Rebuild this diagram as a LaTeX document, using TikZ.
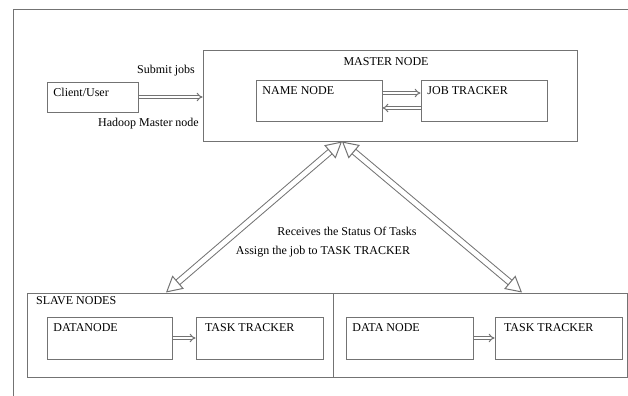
\documentclass[tikz,border=0pt]{standalone}
\usepackage{fontspec}
\setmainfont{Liberation Serif}
\usetikzlibrary{arrows.meta}

\begin{document}
\begin{tikzpicture}[x=0.75pt, y=-0.75pt,
    font=\fontsize{9}{10}\selectfont,
    line/.style={draw=black!55, line width=0.75pt},
    box/.style={line, rectangle, inner sep=0pt},
    title/.style={anchor=north west, inner sep=0pt, text height=6.5pt, text depth=2pt, xshift=5pt, yshift=-4.5pt},
    flow/.style={line, double=white, double distance=1.4pt, -{Implies}},
    bigflow/.style={line, double=white, double distance=3.6pt,
        {Triangle[open, fill=white, length=12pt, width=13pt]}-{Triangle[open, fill=white, length=12pt, width=13pt]}}]
    % Page and frame
    \useasboundingbox (0,0) rectangle (628,396);
    \draw[line] (628,9) -- (13,9) -- (13,396);

    % Client and master
    \node[box, minimum width=68.25pt, minimum height=22.5pt,
          label={[title]north west:Client/User}] (client) at (92.5,97) {};
    \node[box, minimum width=280.5pt, minimum height=68.25pt] (master) at (390,95.5) {};
    \node (mastertitle) at (386,62) {MASTER NODE};
    \node[box, minimum width=94.5pt, minimum height=30.75pt,
          label={[title]north west:NAME NODE}] (name) at (319,100.5) {};
    \node[box, minimum width=94.5pt, minimum height=30.75pt,
          label={[title]north west:JOB TRACKER}] (job) at (484,100.5) {};

    % Slave nodes
    \node[box, minimum width=229.5pt, minimum height=63pt,
          label={[title, yshift=2pt, xshift=2pt]north west:SLAVE NODES}] (slave1) at (180,335) {};
    \node[box, minimum width=220.5pt, minimum height=63pt] (slave2) at (480,335) {};
    \node[box, minimum width=93.75pt, minimum height=31.5pt,
          label={[title]north west:DATANODE}] (data1) at (109.5,338) {};
    \node[box, minimum width=95.25pt, minimum height=31.5pt,
          label={[title, xshift=2pt]north west:TASK TRACKER}] (task1) at (259.5,338) {};
    \node[box, minimum width=95.25pt, minimum height=31.5pt,
          label={[title]north west:DATA NODE}] (data2) at (409.5,338) {};
    \node[box, minimum width=95.25pt, minimum height=31.5pt,
          label={[title, xshift=2pt]north west:TASK TRACKER}] (task2) at (558.5,338) {};

    % Small arrows
    \draw[flow] (client.east) -- (client.east -| master.west);
    \draw[flow] ([yshift=5.6pt]name.east) -- ([yshift=5.6pt]job.west);
    \draw[flow] ([yshift=-5.6pt]job.west) -- ([yshift=-5.6pt]name.east);
    \draw[flow] (data1.east) -- (task1.west);
    \draw[flow] (data2.east) -- (task2.west);

    % Master to slaves
    \draw[bigflow] ([xshift=-36pt]master.south) -- ([xshift=-10.5pt]slave1.north);
    \draw[bigflow] ([xshift=-36pt]master.south) -- ([xshift=31.5pt]slave2.north);

    % Labels
    \node (submit) at (166,71) {Submit jobs};
    \node (hadoop) at (148.5,124) {Hadoop Master node};
    \node (status) at (347,231) {Receives the Status Of Tasks};
    \node (assign) at (323,252) {Assign the job to TASK TRACKER};
\end{tikzpicture}
\end{document}
